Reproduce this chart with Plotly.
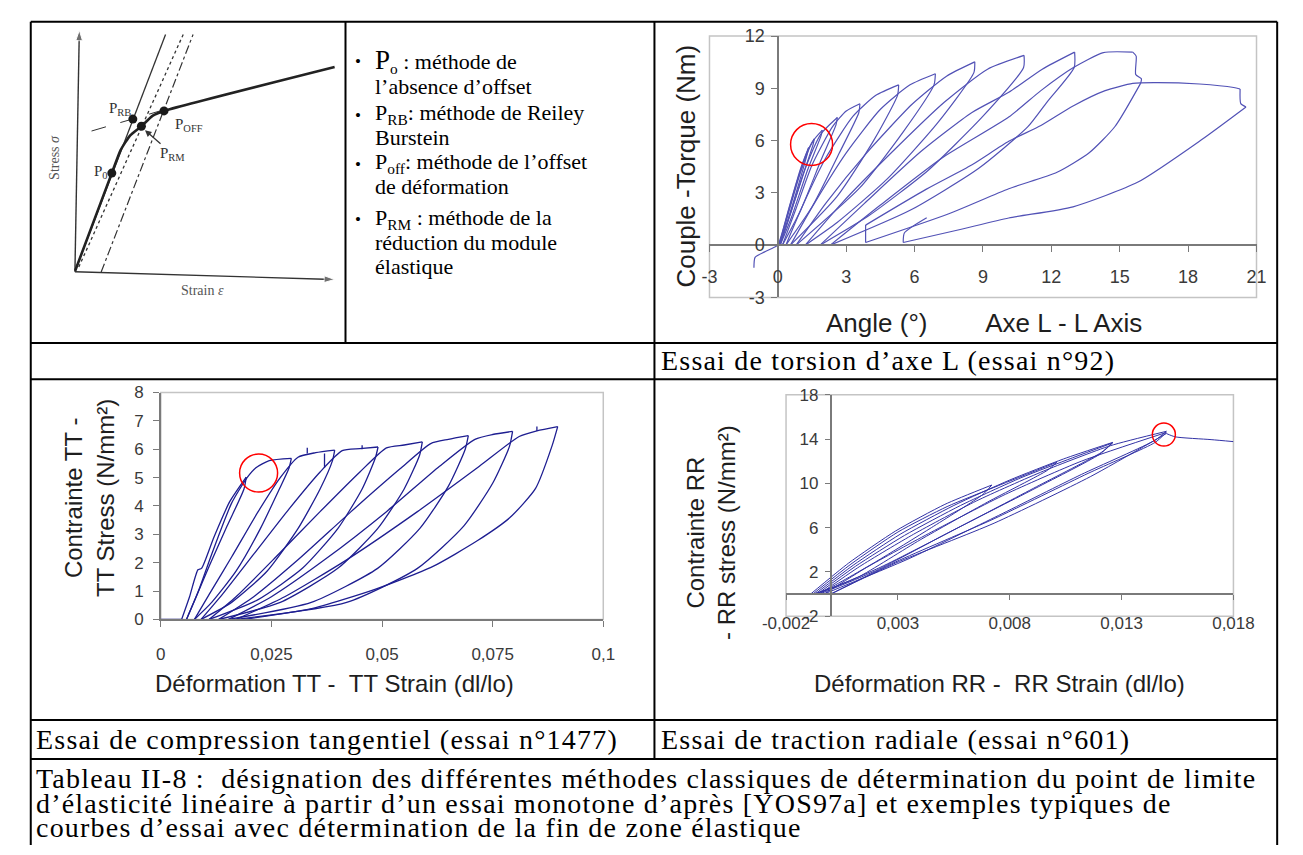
import plotly.graph_objects as go

W, H = 1303, 855


def px(x):
    return x / W


def py(y):
    return 1 - y / H


# ---------------- schematic (stress / strain) ----------------
sch_curve_strain = [0, 1.41, 1.75, 2.12, 2.55, 2.99, 3.42, 9.99]
sch_curve_stress = [0, 3.69, 4.56, 5.12, 5.46, 5.86, 6.04, 7.70]
sch_elastic_strain = [0, 3.48]
sch_elastic_stress = [0, 8.93]
sch_reduced_strain = [0.14, 4.16]
sch_reduced_stress = [0.14, 8.93]
sch_offset_strain = [1.0, 4.54]
sch_offset_stress = [-0.05, 8.93]
sch_plastic_strain = [0.63, 3.48]
sch_plastic_stress = [5.28, 6.10]
sch_points_strain = [1.41, 2.22, 2.55, 3.42]
sch_points_stress = [3.69, 5.73, 5.46, 6.04]
sch_points_names = ["P<sub>0</sub>", "P<sub>RB</sub>", "P<sub>RM</sub>", "P<sub>OFF</sub>"]
sch_names_strain = [1.0, 1.72, 3.75, 4.4]
sch_names_stress = [3.73, 6.1, 4.4, 5.52]
sch_yaxis_strain = [-0.01, 0.16]
sch_yaxis_stress = [-0.04, 9.09]
sch_xaxis_strain = [-0.01, 9.99]
sch_xaxis_stress = [-0.04, -0.33]

bullet_marks = ["•", "", "•", "", "•", "", "•", "", ""]
bullet_lines = [
    "<span style='font-size:27px'>P</span><sub>o</sub> : méthode de",
    "l’absence d’offset",
    "P<sub>RB</sub>: méthode de Reiley",
    "Burstein",
    "P<sub>off</sub>: méthode de l’offset",
    "de déformation",
    "P<sub>RM</sub> : méthode de la",
    "réduction du module",
    "élastique",
]

# ---------------- torsion test n°92 ----------------
tor_xticks = [-3, 0, 3, 6, 9, 12, 15, 18, 21]
tor_xtext = ["-3", "0", "3", "6", "9", "12", "15", "18", "21"]
tor_yticks = [-3, 0, 3, 6, 9, 12]
tor_ytext = ["-3", "0", "3", "6", "9", "12"]
tor_angle = [
    -1.05, -1.0, -0.6, -0.2, 0.0, 0.5, 1.0, 1.35, None,
    1.35, 1.3, 0.8, 0.35, 0.05, None,
    0.05, 0.45, 0.9, 1.3, 1.6, None,
    1.6, 1.55, 1.1, 0.5, 0.08, None,
    0.08, 0.5, 1.0, 1.5, 1.95, None,
    1.95, 1.9, 1.3, 0.6, 0.1, None,
    0.1, 0.6, 1.2, 1.9, 2.61, None,
    2.61, 2.55, 1.9, 1.0, 0.2, None,
    0.2, 0.8, 1.5, 2.4, 3.0, 3.6, None,
    3.6, 3.55, 2.7, 1.5, 0.35, None,
    0.35, 1.1, 2.1, 3.3, 4.3, 5.3, None,
    5.3, 5.25, 4.2, 2.6, 0.55, None,
    0.55, 1.6, 3.0, 4.5, 5.8, 6.91, None,
    6.91, 6.85, 5.5, 3.6, 0.8, None,
    0.8, 2.1, 3.9, 5.9, 7.4, 8.64, None,
    8.64, 8.6, 7.0, 4.8, 2.6, 1.2, None,
    1.2, 2.8, 4.9, 7.3, 9.2, 10.8, None,
    10.8, 10.78, 9.0, 6.6, 4.0, 1.85, None,
    1.85, 3.8, 6.3, 8.5, 10.13, 11.6, 13.02, None,
    13.02, 13.0, 11.8, 10.97, 8.8, 5.8, 2.3, None,
    2.3, 4.5, 7.2, 10.13, 11.54, 12.95, 14.28, 15.57, None,
    15.57, 15.72, 15.7, 15.95, 15.92, None,
    15.92, 14.79, 13.66, 12.25, 10.13, 7.5, 3.85, None,
    3.85, 3.85, None,
    3.85, 6.5, 8.5, 10.13, 11.54, 12.95, 14.36, 15.57, 16.5, 18.5, 20.0, 20.28, None,
    20.28, 20.31, 20.54, None,
    20.54, 18.6, 15.8, 12.95, 10.13, 8.0, 5.5, None,
    5.5, 5.55, 6.53,
]
tor_torque = [
    -1.3, -0.7, -0.4, -0.15, 0.0, 2.2, 4.4, 5.6, None,
    5.6, 5.3, 3.0, 1.1, 0.0, None,
    0.0, 1.9, 3.9, 5.4, 6.1, None,
    6.1, 5.8, 4.0, 1.6, 0.0, None,
    0.0, 2.0, 4.2, 5.9, 6.6, None,
    6.6, 6.3, 4.3, 1.6, 0.0, None,
    0.0, 2.0, 4.4, 6.4, 7.33, None,
    7.33, 6.9, 4.9, 2.0, 0.0, None,
    0.0, 2.1, 4.6, 6.8, 7.7, 8.12, None,
    8.12, 7.6, 5.3, 2.2, 0.0, None,
    0.0, 2.3, 5.0, 7.4, 8.6, 9.2, None,
    9.2, 8.6, 6.0, 2.8, 0.0, None,
    0.0, 2.4, 5.3, 7.8, 9.2, 9.84, None,
    9.84, 9.2, 6.5, 3.3, 0.0, None,
    0.0, 2.4, 5.3, 8.1, 9.7, 10.52, None,
    10.52, 9.9, 7.0, 3.8, 1.3, 0.0, None,
    0.0, 2.4, 5.2, 8.2, 10.1, 10.89, None,
    10.89, 10.2, 7.4, 4.3, 1.7, 0.0, None,
    0.0, 2.4, 5.4, 7.6, 8.77, 10.1, 11.08, None,
    11.08, 10.2, 8.2, 6.8, 4.4, 2.0, 0.0, None,
    0.0, 2.3, 5.0, 7.35, 8.87, 10.18, 11.05, 11.08, None,
    11.08, 10.85, 9.8, 9.55, 9.3, None,
    9.3, 6.81, 5.3, 4.18, 3.24, 1.8, 0.15, None,
    0.15, 1.15, None,
    1.15, 3.2, 4.6, 5.96, 6.87, 7.99, 8.87, 9.28, 9.33, 9.25, 9.05, 8.96, None,
    8.96, 8.12, 7.93, None,
    7.93, 6.06, 3.62, 2.2, 1.56, 0.9, 0.15, None,
    0.15, 0.7, 1.57,
]
tor_limit_angle = [1.48]
tor_limit_torque = [5.78]

# ---------------- tangential compression n°1477 ----------------
tt_xticks = [0, 0.025, 0.05, 0.075, 0.1]
tt_xtext = ["0", "0,025", "0,05", "0,075", "0,1"]
tt_yticks = [0, 1, 2, 3, 4, 5, 6, 7, 8]
tt_ytext = ["0", "1", "2", "3", "4", "5", "6", "7", "8"]
tt_strain = [
    0.0, 0.0047, None,
    0.0047, 0.0065, 0.0084, 0.0092, 0.0120, 0.0156, 0.0193, None,
    0.0193, 0.0188, 0.0150, 0.0110, 0.0080, 0.0058, None,
    0.0058, 0.0085, 0.0115, 0.0160, 0.0195, 0.0215, 0.0245, 0.0295, None,
    0.0295, 0.0290, 0.0268, 0.0225, 0.0170, 0.0115, 0.0076, None,
    0.0076, 0.0110, 0.0160, 0.0220, 0.0270, 0.0310, 0.0350, 0.0393, None,
    0.0393, 0.0388, 0.0360, 0.0310, 0.0240, 0.0160, 0.0091, None,
    0.0091, 0.0140, 0.0210, 0.0290, 0.0360, 0.0410, 0.0450, 0.0491, None,
    0.0491, 0.0485, 0.0455, 0.0400, 0.0320, 0.0220, 0.0109, None,
    0.0109, 0.0170, 0.0260, 0.0360, 0.0450, 0.0510, 0.0550, 0.0591, None,
    0.0591, 0.0585, 0.0550, 0.0490, 0.0400, 0.0270, 0.0131, None,
    0.0131, 0.0210, 0.0310, 0.0430, 0.0540, 0.0610, 0.0650, 0.0695, None,
    0.0695, 0.0688, 0.0650, 0.0585, 0.0490, 0.0340, 0.0153, None,
    0.0153, 0.0250, 0.0370, 0.0510, 0.0630, 0.0710, 0.0750, 0.0795, None,
    0.0795, 0.0788, 0.0750, 0.0685, 0.0580, 0.0420, 0.0170, None,
    0.0170, 0.0280, 0.0420, 0.0580, 0.0720, 0.0810, 0.0850, 0.0897, None,
    0.0897, 0.0884, 0.0847, 0.0789, 0.0716, 0.0614, 0.0484, 0.0338, 0.0185, None,
    # measurement spikes
    0.0331, 0.0331, None,
    0.0370, 0.0370, None,
    0.0455, 0.0455, None,
    0.0850, 0.0850,
]
tt_stress = [
    0.0, 0.0, None,
    0.0, 0.8, 1.75, 1.8, 2.9, 4.16, 5.02, None,
    5.02, 4.6, 3.3, 1.9, 0.8, 0.0, None,
    0.0, 1.0, 2.3, 4.1, 5.0, 5.35, 5.6, 5.68, None,
    5.68, 5.35, 4.6, 3.2, 1.7, 0.6, 0.0, None,
    0.0, 0.9, 2.2, 3.8, 5.0, 5.72, 5.88, 5.97, None,
    5.97, 5.6, 4.6, 3.2, 1.7, 0.6, 0.0, None,
    0.0, 0.9, 2.3, 3.9, 5.2, 5.95, 6.02, 6.08, None,
    6.08, 5.7, 4.6, 3.2, 1.8, 0.7, 0.0, None,
    0.0, 0.8, 2.2, 3.8, 5.2, 6.05, 6.15, 6.26, None,
    6.26, 5.8, 4.6, 3.2, 1.8, 0.6, 0.0, None,
    0.0, 0.8, 2.1, 3.8, 5.3, 6.2, 6.35, 6.48, None,
    6.48, 6.0, 4.7, 3.2, 1.8, 0.6, 0.0, None,
    0.0, 0.8, 2.1, 3.8, 5.4, 6.35, 6.52, 6.63, None,
    6.63, 6.1, 4.8, 3.3, 1.8, 0.6, 0.0, None,
    0.0, 0.8, 2.1, 3.8, 5.4, 6.45, 6.65, 6.80, None,
    6.80, 6.11, 4.62, 3.59, 2.78, 1.86, 1.06, 0.37, 0.0, None,
    5.85, 6.05, None,
    5.35, 5.85, None,
    6.0, 6.14, None,
    6.64, 6.8,
]
tt_limit_strain = [0.0221]
tt_limit_stress = [5.16]

# ---------------- radial tension n°601 ----------------
rr_xticks = [-0.002, 0.003, 0.008, 0.013, 0.018]
rr_xtext = ["-0,002", "0,003", "0,008", "0,013", "0,018"]
rr_yticks = [-2, 2, 6, 10, 14, 18]
rr_ytext = ["-2", "2", "6", "10", "14", "18"]
rr_strain = [
    -0.0009, 0.0008, 0.0029, 0.0051, 0.0072, None,
    0.0072, 0.0068, 0.0045, 0.0020, -0.0002, -0.0008, None,
    -0.0008, 0.0009, 0.0030, 0.0052, 0.0075, 0.0101, None,
    0.0101, 0.0097, 0.0070, 0.0040, 0.0012, -0.0007, None,
    -0.0007, 0.0010, 0.0031, 0.0055, 0.0080, 0.0104, 0.0126, None,
    0.0126, 0.0121, 0.0092, 0.0058, 0.0022, -0.0006, None,
    -0.0006, 0.0011, 0.0033, 0.0058, 0.0085, 0.0108, 0.0126, None,
    0.0126, 0.0120, 0.0090, 0.0055, 0.0020, -0.0005, None,
    -0.0005, 0.0013, 0.0037, 0.0065, 0.0095, 0.0125, 0.0150, None,
    0.0150, 0.0145, 0.0112, 0.0075, 0.0035, -0.0003, None,
    -0.0003, 0.0016, 0.0045, 0.0078, 0.0112, 0.0150, None,
    0.0150, 0.0145, 0.0115, 0.0073, 0.0029, 0.0000, None,
    0.0000, 0.0029, 0.0073, 0.0116, 0.0150, None,
    0.0150, 0.0154, 0.0170, 0.0180,
]
rr_stress = [
    0.0, 2.8, 5.7, 8.1, 9.85, None,
    9.85, 9.0, 6.0, 2.9, 0.4, 0.0, None,
    0.0, 2.7, 5.6, 7.9, 9.8, 11.9, None,
    11.9, 11.2, 8.3, 4.9, 1.5, 0.0, None,
    0.0, 2.6, 5.4, 8.0, 10.3, 12.2, 13.7, None,
    13.7, 12.8, 9.7, 6.1, 2.4, 0.0, None,
    0.0, 2.5, 5.3, 8.0, 10.5, 12.3, 13.65, None,
    13.65, 12.6, 9.4, 5.8, 2.1, 0.0, None,
    0.0, 2.5, 5.4, 8.4, 11.1, 13.4, 14.7, None,
    14.7, 13.9, 10.8, 7.1, 3.2, 0.0, None,
    0.0, 2.4, 5.6, 9.0, 12.0, 14.6, None,
    14.6, 13.7, 10.9, 6.8, 2.9, 0.0, None,
    0.0, 2.8, 6.4, 10.6, 14.5, None,
    14.5, 14.2, 13.95, 13.77,
]
rr_limit_strain = [0.01489]
rr_limit_stress = [14.41]

SERIF = "Liberation Serif, Times New Roman, serif"
SANS = "Liberation Sans, Arial, sans-serif"
INK = "#333333"
FRAME = "#c4c4c4"
AXIS = "#7a7a7a"
TITLE = "#1e1e1e"

fig = go.Figure()

# schematic
for xs, ys in [(sch_yaxis_strain, sch_yaxis_stress), (sch_xaxis_strain, sch_xaxis_stress)]:
    fig.add_trace(go.Scatter(x=xs, y=ys, mode="lines+markers",
                             line=dict(color=INK, width=1.4),
                             marker=dict(symbol=["circle", "arrow"], size=[0, 11],
                                         angleref="previous", color=INK),
                             xaxis="x", yaxis="y"))
fig.add_trace(go.Scatter(x=sch_elastic_strain, y=sch_elastic_stress, mode="lines",
                         line=dict(color=INK, width=1.3), xaxis="x", yaxis="y"))
fig.add_trace(go.Scatter(x=sch_reduced_strain, y=sch_reduced_stress, mode="lines",
                         line=dict(color=INK, width=1.3, dash="dot"), xaxis="x", yaxis="y"))
fig.add_trace(go.Scatter(x=sch_offset_strain, y=sch_offset_stress, mode="lines",
                         line=dict(color=INK, width=1.2, dash="dashdot"), xaxis="x", yaxis="y"))
fig.add_trace(go.Scatter(x=sch_plastic_strain, y=sch_plastic_stress, mode="lines",
                         line=dict(color=INK, width=1.0, dash="longdash"), xaxis="x", yaxis="y"))
fig.add_trace(go.Scatter(x=sch_curve_strain, y=sch_curve_stress, mode="lines",
                         line=dict(color="#222222", width=2.6, shape="spline", smoothing=0.5),
                         xaxis="x", yaxis="y"))
fig.add_trace(go.Scatter(x=sch_points_strain, y=sch_points_stress, mode="markers",
                         marker=dict(color="#1a1a1a", size=9), xaxis="x", yaxis="y"))

# torsion
fig.add_trace(go.Scatter(x=tor_angle, y=tor_torque, mode="lines",
                         line=dict(color="rgb(82,82,182)", width=1.2, shape="spline", smoothing=0.6),
                         xaxis="x2", yaxis="y2"))
fig.add_trace(go.Scatter(x=tor_limit_angle, y=tor_limit_torque, mode="markers",
                         marker=dict(symbol="circle-open", size=42, color="red", line=dict(width=1.5)),
                         xaxis="x2", yaxis="y2"))

# tangential compression
fig.add_trace(go.Scatter(x=tt_strain, y=tt_stress, mode="lines",
                         line=dict(color="rgb(30,30,145)", width=1.3, shape="spline", smoothing=0.6),
                         xaxis="x3", yaxis="y3"))
fig.add_trace(go.Scatter(x=tt_limit_strain, y=tt_limit_stress, mode="markers",
                         marker=dict(symbol="circle-open", size=38, color="red", line=dict(width=1.5)),
                         xaxis="x3", yaxis="y3"))

# radial tension
fig.add_trace(go.Scatter(x=rr_strain, y=rr_stress, mode="lines",
                         line=dict(color="rgb(50,50,165)", width=1.0, shape="spline", smoothing=0.6),
                         xaxis="x4", yaxis="y4"))
fig.add_trace(go.Scatter(x=rr_limit_strain, y=rr_limit_stress, mode="markers",
                         marker=dict(symbol="circle-open", size=23, color="red", line=dict(width=1.5)),
                         xaxis="x4", yaxis="y4"))


def chart_axis(font_size, **kw):
    base = dict(showline=True, linecolor=AXIS, linewidth=1.5, ticks="outside", ticklen=6,
                tickcolor=AXIS, tickwidth=1.2, showgrid=False, zeroline=False,
                tickfont=dict(family=SANS, size=font_size, color="#3a3a3a"))
    base.update(kw)
    return base


fig.update_layout(
    width=W, height=H, margin=dict(l=0, r=0, t=0, b=0),
    paper_bgcolor="white", plot_bgcolor="rgba(0,0,0,0)", showlegend=False,
    xaxis=dict(domain=[px(20), px(330)], range=[-1.227, 10.297], visible=False, anchor="y"),
    yaxis=dict(domain=[py(290), py(15)], range=[-0.849, 9.30], visible=False, anchor="x"),
    xaxis2=chart_axis(18, domain=[px(710), px(1276.6)], range=[-3, 21], anchor="free",
                      position=py(241), tickvals=tor_xticks, ticktext=tor_xtext,
                      ticklabelstandoff=9),
    yaxis2=chart_axis(18, domain=[py(294.3), py(26.7)], range=[-3, 12], anchor="free",
                      position=px(781), tickvals=tor_yticks, ticktext=tor_ytext,
                      ticklabelstandoff=3),
    xaxis3=chart_axis(17, domain=[px(141.7), px(600)], range=[0, 0.1], anchor="y3",
                      tickvals=tt_xticks, ticktext=tt_xtext, ticklabelstandoff=12),
    yaxis3=chart_axis(17, domain=[py(624), py(391.7)], range=[0, 8], anchor="x3",
                      tickvals=tt_yticks, ticktext=tt_ytext, ticklabelstandoff=6),
    xaxis4=chart_axis(17, domain=[px(789.3), px(1252.7)], range=[-0.002, 0.018], anchor="free",
                      position=py(598.3), tickvals=rr_xticks, ticktext=rr_xtext,
                      ticklen=5, ticklabelstandoff=9),
    yaxis4=chart_axis(17, domain=[py(620.7), py(394)], range=[-2, 18], anchor="free",
                      position=px(835.5), tickvals=rr_yticks, ticktext=rr_ytext,
                      ticklen=5, ticklabelstandoff=3),
)

shapes = []
# light frames round the three chart plot areas
for ax in ["2", "3", "4"]:
    shapes.append(dict(type="rect", xref="x%s domain" % ax, yref="y%s domain" % ax,
                       x0=0, x1=1, y0=0, y1=1, line=dict(color=FRAME, width=1.5), layer="below"))

# table rules
rules = [
    (7, 12, 1298, 12), (7, 12, 7, 855), (1298, 12, 1298, 855),
    (7, 341, 1298, 341), (7, 378, 1298, 378), (7, 727, 1298, 727), (7, 767, 1298, 767),
    (333, 12, 333, 341), (653, 12, 653, 767),
]
for x0, y0, x1, y1 in rules:
    shapes.append(dict(type="line", xref="paper", yref="paper", x0=px(x0), y0=py(y0),
                       x1=px(x1), y1=py(y1), line=dict(color="black", width=2)))

ann = []
# schematic labels
for name, nx, ny, sx, sy in zip(sch_points_names, sch_names_strain, sch_names_stress,
                                sch_points_strain, sch_points_stress):
    if "RM" in name:
        ann.append(dict(x=sx + 0.08, y=sy - 0.1, ax=nx, ay=ny, xref="x", yref="y", axref="x",
                        ayref="y", text=name, showarrow=True, arrowhead=2, arrowsize=1,
                        arrowwidth=1.3, arrowcolor=INK, standoff=2,
                        font=dict(family=SERIF, size=15, color=INK)))
    else:
        ann.append(dict(x=nx, y=ny, xref="x", yref="y", text=name, showarrow=False,
                        xanchor="center", yanchor="middle",
                        font=dict(family=SERIF, size=15, color=INK)))
ann.append(dict(x=-0.78, y=4.3, xref="x", yref="y", text="Stress <i>σ</i>", textangle=-90,
                showarrow=False, xanchor="center", yanchor="middle",
                font=dict(family=SERIF, size=14, color="#555555")))
ann.append(dict(x=4.9, y=-0.75, xref="x", yref="y", text="Strain <i>ε</i>",
                showarrow=False, xanchor="center", yanchor="middle",
                font=dict(family=SERIF, size=14, color="#555555")))

# bullet list
bullet_y = [52, 78, 107, 131, 157, 181, 214, 238, 263]
for mark, line, yy in zip(bullet_marks, bullet_lines, bullet_y):
    if mark:
        ann.append(dict(x=px(346), y=py(yy + 1), xref="paper", yref="paper", text=mark,
                        showarrow=False, xanchor="center", yanchor="middle",
                        font=dict(family=SERIF, size=17, color="black")))
    ann.append(dict(x=px(361), y=py(yy), xref="paper", yref="paper", text=line,
                    showarrow=False, xanchor="left", yanchor="middle",
                    font=dict(family=SERIF, size=22, color="black")))

# axis titles
gap = "\u00a0" * 8
titles = [
    ("Couple -Torque (Nm)", 686, 160, -90, 26),
    ("Angle (°)" + gap + "Axe L - L Axis", 994, 320, 0, 26),
    ("Contrainte TT -<br>TT Stress (N/mm²)", 68, 500, -90, 24),
    ("Déformation TT -\u00a0\u00a0TT Strain (dl/lo)", 322, 690, 0, 24),
    ("Contrainte RR<br>- RR stress (N/mm²)", 712, 535, -90, 24),
    ("Déformation RR -\u00a0\u00a0RR Strain (dl/lo)", 1010, 690, 0, 24),
]
for text, xx, yy, angle, size in titles:
    ann.append(dict(x=px(xx), y=py(yy), xref="paper", yref="paper", text=text,
                    textangle=angle, showarrow=False, xanchor="center", yanchor="middle",
                    font=dict(family=SANS, size=size, color=TITLE)))

# table captions
captions = [
    ("Essai de torsion d’axe L (essai n°92)", 658, 359),
    ("Essai de compression tangentiel (essai n°1477)", 10, 747),
    ("Essai de traction radiale (essai n°601)", 658, 747),
    ("Tableau II-8 :\u00a0 désignation des différentes méthodes classiques de détermination "
     "du point de limite", 10, 787),
    ("d’élasticité linéaire à partir d’un essai monotone d’après [YOS97a] et exemples "
     "typiques de", 10, 812),
    ("courbes d’essai avec détermination de la fin de zone élastique", 10, 837),
]
for text, xx, yy in captions:
    ann.append(dict(x=px(xx), y=py(yy), xref="paper", yref="paper",
                    text="<span style='letter-spacing:1.2px'>" + text + "</span>",
                    showarrow=False, xanchor="left", yanchor="middle",
                    font=dict(family=SERIF, size=28, color="black")))

fig.update_layout(shapes=shapes, annotations=ann)

fig.write_html("out.html", config={"displayModeBar": False},
               post_script="document.body.style.margin='0';")
